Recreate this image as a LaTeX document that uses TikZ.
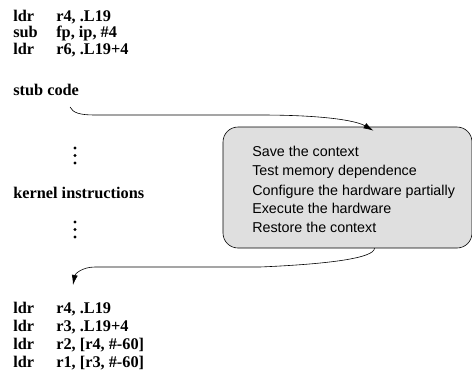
\documentclass[tikz,border=0pt]{standalone}
\usepackage{fontspec}
\setmainfont{Liberation Serif}
\setsansfont{Liberation Sans}
\usetikzlibrary{positioning, arrows.meta}
\tikzstyle{every node}=[inner sep=0pt]
\tikzstyle{asm}=[anchor=base west,font=\bfseries\fontsize{16.3}{18}\selectfont]
\tikzstyle{stubbox}=[draw,fill=gray!25,rounded corners=15pt,minimum width=249pt,minimum height=121pt]
\tikzstyle{stepline}=[anchor=base west,font=\sffamily\fontsize{14.3}{16}\selectfont]
\tikzstyle{dot}=[circle,fill,inner sep=1.1pt]
\newcommand{\ins}[2]{\makebox[43pt][l]{#1}#2}

\begin{document}
\begin{tikzpicture}[x=1pt,y=-1pt,>={Latex[length=10pt,width=6pt]},line width=0.6pt]
            \useasboundingbox (0,0) rectangle (472,378);
            % code before the kernel
            \node[asm] (pre1) at (13,21) {\ins{ldr}{r4, .L19}};
            \node[asm] (pre2) at (13,37) {\ins{sub}{fp, ip, \#4}};
            \node[asm] (pre3) at (13,54) {\ins{ldr}{r6, .L19+4}};
            \node[asm] (stub) at (13,95) {stub code};
            \node[dot] (dota1) at (75,148) {};
            \node[dot] (dota2) at (75,155.5) {};
            \node[dot] (dota3) at (75,163) {};
            \node[asm] (kernel) at (13,198) {kernel instructions};
            \node[dot] (dotb1) at (75,222) {};
            \node[dot] (dotb2) at (75,229.5) {};
            \node[dot] (dotb3) at (75,237) {};
            % stub routine
            \node[stubbox] (box) at (347.5,187.5) {};
            \node[stepline] (save) at (252,156) {Save the context};
            \node[stepline] (test) at (252,175) {Test memory dependence};
            \node[stepline] (conf) at (252,195) {Configure the hardware partially};
            \node[stepline] (exec) at (252,213) {Execute the hardware};
            \node[stepline] (rest) at (252,232) {Restore the context};
            % code after the kernel
            \node[asm] (post1) at (13,313) {\ins{ldr}{r4, .L19}};
            \node[asm] (post2) at (13,331) {\ins{ldr}{r3, .L19+4}};
            \node[asm] (post3) at (13,349) {\ins{ldr}{r2, [r4, \#-60]}};
            \node[asm] (post4) at (13,367) {\ins{ldr}{r1, [r3, \#-60]}};
            \coordinate (call) at (70,107);
            \coordinate (back) at (73,285);
            \draw[->] (call) .. controls (73,113) and (80,115) .. (95,115) -- (260,115)
                .. controls (320,115) and (355,120) .. ([xshift=26pt,yshift=-4pt]box.north);
            \draw[->] ([xshift=27pt]box.south) .. controls (374,258) and (330,264) .. (260,267)
                -- (95,267) .. controls (82,267) and (75,274) .. (back);
        \end{tikzpicture}
\end{document}
